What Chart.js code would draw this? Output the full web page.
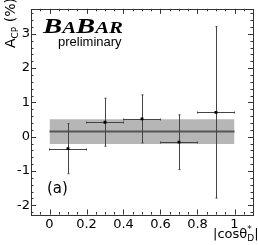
<!DOCTYPE html>
<html>
<head>
<meta charset="utf-8">
<script src="https://cdn.jsdelivr.net/npm/chart.js@4/dist/chart.umd.min.js"></script>
<style>
  html, body { margin: 0; padding: 0; background: #fff; }
  #wrap { width: 258px; height: 245px; }
</style>
</head>
<body>
<div id="wrap"><canvas id="acp-chart" width="258" height="245"></canvas></div>
<script>
// --- data ---
const binCenters = [0.1, 0.3, 0.5, 0.7, 0.9];
const binHalfWidths = [0.1, 0.1, 0.1, 0.1, 0.1];
const acpValues = [-0.35, 0.42, 0.52, -0.16, 0.71];
const acpErrors = [0.73, 0.70, 0.70, 0.80, 2.50];
const avgValue = [0.15];
const avgError = [0.36];
const avgRange = [0, 1];
const xTickValues = [0, 0.2, 0.4, 0.6, 0.8, 1];
const xTickLabels = ['0', '0.2', '0.4', '0.6', '0.8', '1'];
const yTickValues = [-2, -1, 0, 1, 2, 3];
const yTickLabels = ['-2', '-1', '0', '1', '2', '3'];

const FRAME = '#333';

// --- frame, inward ticks, error bars and labels ---
// datasets are painted last-to-first, so the error bars go in right after
// the average line (index 1) and before the markers (index 0)
const decorations = {
    id: 'decorations',
    afterDatasetDraw(chart, args) {
        if (args.index !== 1) return;
        const ctx = chart.ctx, xs = chart.scales.x, ys = chart.scales.y;
        ctx.save();
        ctx.strokeStyle = '#444';
        ctx.lineWidth = 1;
        binCenters.forEach((c, i) => {
            const px = Math.round(xs.getPixelForValue(c)) + 0.5;
            const py = Math.round(ys.getPixelForValue(acpValues[i])) + 0.5;
            const x0 = xs.getPixelForValue(c - binHalfWidths[i]);
            const x1 = xs.getPixelForValue(c + binHalfWidths[i]);
            const y0 = ys.getPixelForValue(acpValues[i] + acpErrors[i]);
            const y1 = ys.getPixelForValue(acpValues[i] - acpErrors[i]);
            ctx.beginPath();
            ctx.moveTo(x0, py); ctx.lineTo(x1, py);
            ctx.moveTo(px, y0); ctx.lineTo(px, y1);
            // small end caps
            ctx.moveTo(x0, py - 1); ctx.lineTo(x0, py + 1);
            ctx.moveTo(x1, py - 1); ctx.lineTo(x1, py + 1);
            ctx.moveTo(px - 1, y0); ctx.lineTo(px + 1, y0);
            ctx.moveTo(px - 1, y1); ctx.lineTo(px + 1, y1);
            ctx.stroke();
        });
        ctx.restore();
    },
    afterDraw(chart) {
        const ctx = chart.ctx, a = chart.chartArea;
        const xs = chart.scales.x, ys = chart.scales.y;
        ctx.save();
        ctx.strokeStyle = FRAME;
        ctx.lineWidth = 1;
        ctx.strokeRect(Math.round(a.left) + 0.5, Math.round(a.top) + 0.5,
            Math.round(a.right - a.left), Math.round(a.bottom - a.top));

        ctx.beginPath();
        // x ticks: minor every 0.05, major every 0.2
        for (let k = -2; k <= 22; k++) {
            const v = k * 0.05;
            const px = Math.round(xs.getPixelForValue(v)) + 0.5;
            if (px <= a.left + 1 || px >= a.right - 1) continue;
            const len = (k % 4 === 0) ? 5 : 2.5;
            ctx.moveTo(px, a.bottom); ctx.lineTo(px, a.bottom - len);
            ctx.moveTo(px, a.top); ctx.lineTo(px, a.top + len);
        }
        // y ticks: minor every 0.2, major every 1
        for (let k = -11; k <= 18; k++) {
            const v = k * 0.2;
            const py = Math.round(ys.getPixelForValue(v)) + 0.5;
            if (py <= a.top + 1 || py >= a.bottom - 1) continue;
            const len = (k % 5 === 0) ? 5 : 2.5;
            ctx.moveTo(a.left, py); ctx.lineTo(a.left + len, py);
            ctx.moveTo(a.right, py); ctx.lineTo(a.right - len, py);
        }
        ctx.stroke();

        ctx.fillStyle = '#000';
        ctx.textBaseline = 'alphabetic';

        // y axis title, rotated
        ctx.save();
        ctx.translate(15, 48);
        ctx.rotate(-Math.PI / 2);
        ctx.font = '14px "DejaVu Sans"';
        ctx.fillText('A', 0, 0);
        let w = ctx.measureText('A').width;
        ctx.font = '9px "DejaVu Sans"';
        ctx.fillText('CP', w, 3);
        w += ctx.measureText('CP').width;
        ctx.font = '14px "DejaVu Sans"';
        ctx.fillText(' (%)', w, 0);
        ctx.restore();

        // x axis title |cos θ*_D|
        let x = 213;
        const base = 238;
        ctx.font = '13px "DejaVu Sans"';
        ctx.fillText('|cos', x, base);
        x += ctx.measureText('|cos').width;
        ctx.fillText('\u03b8', x, base);
        x += ctx.measureText('\u03b8').width;
        ctx.font = '9px "DejaVu Sans"';
        ctx.fillText('*', x, base - 6);
        ctx.fillText('D', x, base + 3);
        x += ctx.measureText('D').width;
        ctx.font = '13px "DejaVu Sans"';
        ctx.fillText('|', x, base);

        // (a)
        ctx.font = '15px "DejaVu Sans"';
        ctx.fillText('(a)', 47, 193);

        // BaBar logo, stretched to the logo width
        ctx.save();
        const big = 'bold italic 22px "Liberation Serif"';
        const small = 'bold italic 16px "Liberation Serif"';
        const parts = [['B', big], ['A', small], ['B', big], ['AR', small]];
        let total = 0;
        parts.forEach(p => { ctx.font = p[1]; total += ctx.measureText(p[0]).width; });
        ctx.translate(43, 33);
        ctx.scale(80 / total, 1);
        let lx = 0;
        parts.forEach(p => { ctx.font = p[1]; ctx.fillText(p[0], lx, 0); lx += ctx.measureText(p[0]).width; });
        ctx.restore();
        ctx.font = '13px "Liberation Sans"';
        ctx.fillText('preliminary', 58, 46);
        ctx.restore();
    }
};

const ctx = document.getElementById('acp-chart').getContext('2d');
new Chart(ctx, {
    type: 'scatter',
    data: {
        datasets: [
            {   // measurements
                data: binCenters.map((x, i) => ({ x, y: acpValues[i] })),
                pointStyle: 'rect', pointRadius: 2, pointBorderWidth: 0,
                backgroundColor: '#000', borderColor: '#000'
            },
            {   // average
                data: avgRange.map(x => ({ x, y: avgValue[0] })),
                showLine: true, borderColor: '#555', borderWidth: 2, pointRadius: 0, fill: false
            },
            {   // band upper edge
                data: avgRange.map(x => ({ x, y: avgValue[0] + avgError[0] })),
                showLine: true, borderWidth: 0, pointRadius: 0,
                backgroundColor: '#b6b6b6', fill: '+1'
            },
            {   // band lower edge
                data: avgRange.map(x => ({ x, y: avgValue[0] - avgError[0] })),
                showLine: true, borderWidth: 0, pointRadius: 0, fill: false
            }
        ]
    },
    options: {
        responsive: false,
        animation: false,
        events: [],
        layout: { padding: { left: 0, top: 4.5, right: 5, bottom: 0 } },
        plugins: { legend: { display: false }, tooltip: { enabled: false } },
        scales: {
            x: {
                type: 'linear', min: -0.1, max: 1.1,
                grid: { display: false, drawTicks: false },
                border: { display: false },
                afterBuildTicks: s => { s.ticks = xTickValues.map(v => ({ value: v })); },
                afterFit: s => { s.height = 30.5; },
                ticks: {
                    padding: 2, color: '#000', font: { family: 'DejaVu Sans', size: 13 },
                    maxRotation: 0, autoSkip: false,
                    callback: v => xTickLabels[xTickValues.indexOf(v)]
                }
            },
            y: {
                type: 'linear', min: -2.27, max: 3.73,
                grid: { display: false, drawTicks: false },
                border: { display: false },
                afterBuildTicks: s => { s.ticks = yTickValues.map(v => ({ value: v })); },
                afterFit: s => { s.width = 31; },
                ticks: {
                    padding: 1, color: '#000', font: { family: 'DejaVu Sans', size: 13 },
                    autoSkip: false,
                    callback: v => yTickLabels[yTickValues.indexOf(v)]
                }
            }
        }
    },
    plugins: [decorations]
});
</script>
</body>
</html>
